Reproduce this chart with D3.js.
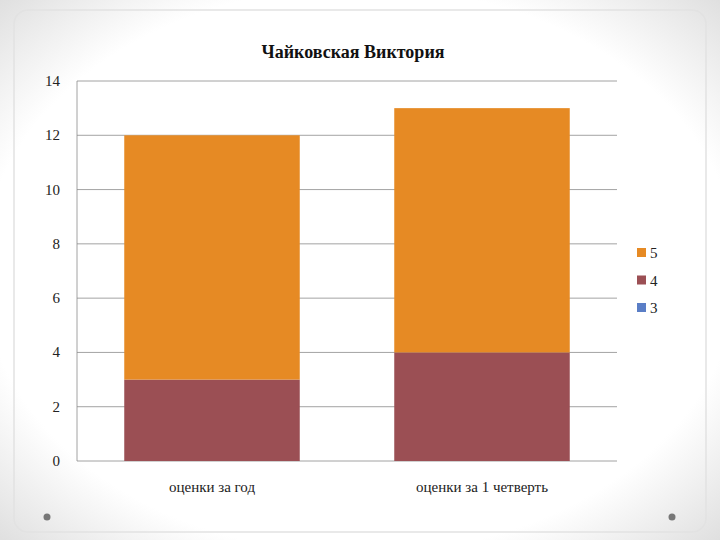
<!DOCTYPE html>
<html><head><meta charset="utf-8">
<script src="https://cdn.jsdelivr.net/npm/d3@7"></script>
<style>body{margin:0;background:#fff}</style></head>
<body><svg id="c" width="720" height="540"></svg>
<script>
const categories = ["оценки за год", "оценки за 1 четверть"];
const seriesNames = ["3", "4", "5"];
const s3 = [0, 0];
const s4 = [3, 4];
const s5 = [9, 9];
const yTicks = [0, 2, 4, 6, 8, 10, 12, 14];
const colors = {"3": "#5a7ec6", "4": "#9b4f54", "5": "#e68a24"};
const title = "Чайковская Виктория";

const svg = d3.select("#c");
const defs = svg.append("defs");
const g = defs.append("radialGradient").attr("id","bg").attr("cx","50%").attr("cy","50%").attr("r","75%");
g.append("stop").attr("offset","70%").attr("stop-color","#ffffff");
g.append("stop").attr("offset","100%").attr("stop-color","#d8d8d8");
svg.append("rect").attr("width",720).attr("height",540).attr("fill","url(#bg)");
svg.append("rect").attr("x",14).attr("y",10).attr("width",692).attr("height",522).attr("rx",14)
  .attr("fill","none").attr("stroke","#e2e2e2").attr("stroke-width",1.5);
[[47,517],[672,517]].forEach(p=>svg.append("circle").attr("cx",p[0]).attr("cy",p[1]).attr("r",3.5).attr("fill","#777"));

const font = "'Liberation Serif','DejaVu Serif',serif";
const x = d3.scaleBand().domain(categories).range([77,617]).paddingInner(0.35).paddingOuter(0.175);
const y = d3.scaleLinear().domain([0,14]).range([461,81]);

svg.append("g").selectAll("line").data(yTicks).join("line")
  .attr("x1",77).attr("x2",617).attr("y1",d=>y(d)).attr("y2",d=>y(d)).attr("stroke","#8c8c8c").attr("stroke-width",0.8);
svg.append("line").attr("x1",77).attr("x2",77).attr("y1",81).attr("y2",461).attr("stroke","#8c8c8c").attr("stroke-width",0.8);
svg.append("g").selectAll("text").data(yTicks).join("text")
  .attr("x",60).attr("y",d=>y(d)+5).attr("text-anchor","end").attr("font-family",font).attr("font-size",15).attr("fill","#222").text(d=>d);

const data = categories.map((c,i)=>({cat:c,"3":s3[i],"4":s4[i],"5":s5[i]}));
const stack = d3.stack().keys(seriesNames)(data);
svg.append("g").selectAll("g").data(stack).join("g").attr("fill",d=>colors[d.key])
  .selectAll("rect").data(d=>d).join("rect")
  .attr("x",d=>x(d.data.cat)).attr("width",x.bandwidth())
  .attr("y",d=>y(d[1])).attr("height",d=>y(d[0])-y(d[1]));

svg.append("g").selectAll("text").data(categories).join("text")
  .attr("x",d=>x(d)+x.bandwidth()/2).attr("y",492).attr("text-anchor","middle")
  .attr("font-family",font).attr("font-size",15).attr("fill","#222").text(d=>d);

svg.append("text").attr("x",353).attr("y",58).attr("text-anchor","middle").attr("font-family",font)
  .attr("font-size",18).attr("font-weight","bold").attr("fill","#111").text(title);

const leg = ["5","4","3"];
svg.append("g").selectAll("g").data(leg).join("g").attr("transform",(d,i)=>`translate(637,${257+i*27.5})`)
  .each(function(d){
    const s=d3.select(this);
    s.append("rect").attr("x",0).attr("y",-9).attr("width",9).attr("height",9).attr("fill",colors[d]);
    s.append("text").attr("x",13).attr("y",1).attr("font-family",font).attr("font-size",15).attr("fill","#222").text(d);
  });
</script></body></html>
